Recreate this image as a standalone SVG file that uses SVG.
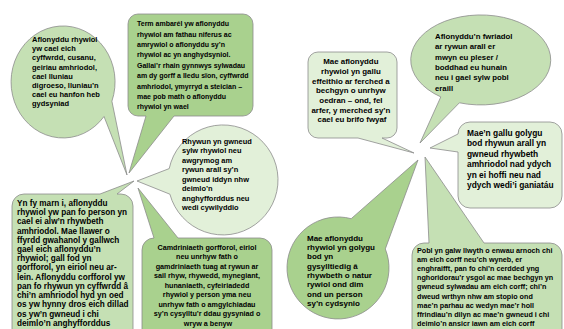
<svg xmlns="http://www.w3.org/2000/svg" width="564" height="329" viewBox="0 0 564 329">
<style>
.s{stroke:#8c8c8c;stroke-width:0.8;stroke-linejoin:round}
.dk{fill:#a9d18e}
.md{fill:#c5e0b4}
.lt{fill:#e2f0d9}
text{font-family:"Liberation Sans",Arial,sans-serif;font-weight:bold;fill:#000}
</style>
<rect width="564" height="329" fill="#ffffff"/>
<g id="connectors"></g>

<g id="n1">
<path class="s md" d="M 111.9,101.2 A 52 56 0 1 0 104,116.5 L 127,175 Z"/>
<text font-size="7.5">
<tspan x="32" y="42.3">Aflonyddu rhywiol</tspan>
<tspan x="32" y="51.4">yw cael eich</tspan>
<tspan x="32" y="60.4">cyffwrdd, cusanu,</tspan>
<tspan x="32" y="69.5">geiriau amhriodol,</tspan>
<tspan x="32" y="78.5">cael lluniau</tspan>
<tspan x="32" y="87.6">digroeso, lluniau’n</tspan>
<tspan x="32" y="96.6">cael eu hanfon heb</tspan>
<tspan x="32" y="105.7">gydsyniad</tspan>
</text>
</g>

<g id="n2">
<path class="s dk" d="M 138,14 H 243 A 10 10 0 0 1 253,24 V 106 A 10 10 0 0 1 243,116 H 174 L 129,173 L 146,116 H 138 A 10 10 0 0 1 128,106 V 24 A 10 10 0 0 1 138,14 Z"/>
<text font-size="7">
<tspan x="137" y="26.1">Term ambarél yw aflonyddu</tspan>
<tspan x="137" y="36.5">rhywiol am fathau niferus ac</tspan>
<tspan x="137" y="46.9">amrywiol o aflonyddu sy’n</tspan>
<tspan x="137" y="57.3">rhywiol ac yn anghydsyniol.</tspan>
<tspan x="137" y="67.7">Gallai’r rhain gynnwys sylwadau</tspan>
<tspan x="137" y="78.1">am dy gorff a lledu sïon, cyffwrdd</tspan>
<tspan x="137" y="88.5">amhriodol, ymyrryd a steician –</tspan>
<tspan x="137" y="98.9">mae pob math o aflonyddu</tspan>
<tspan x="137" y="109.3">rhywiol yn wael</tspan>
</text>
</g>

<g id="n3">
<path class="s lt" d="M 169.2,168.6 A 55 55 0 1 1 169.9,194.2 L 137,181 Z"/>
<text font-size="7.45">
<tspan x="182" y="143.9">Rhywun yn gwneud</tspan>
<tspan x="182" y="153.4">sylw rhywiol neu</tspan>
<tspan x="182" y="162.9">awgrymog am</tspan>
<tspan x="182" y="172.4">rywun arall sy’n</tspan>
<tspan x="182" y="181.9">gwneud iddyn nhw</tspan>
<tspan x="182" y="191.4">deimlo’n</tspan>
<tspan x="182" y="200.9">anghyfforddus neu</tspan>
<tspan x="182" y="210.4">wedi cywilyddio</tspan>
</text>
</g>

<g id="n4">
<path class="s md" d="M 24,194 H 100 L 134,181 L 117,194 H 121 A 12 12 0 0 1 133,206 V 345 H 12 V 206 A 12 12 0 0 1 24,194 Z"/>
<text font-size="8.2">
<tspan x="17" y="205.8">Yn fy marn i, aflonyddu</tspan>
<tspan x="17" y="215">rhywiol yw pan fo person yn</tspan>
<tspan x="17" y="224.3">cael ei alw’n rhywbeth</tspan>
<tspan x="17" y="233.5">amhriodol. Mae llawer o</tspan>
<tspan x="17" y="242.7">ffyrdd gwahanol y gallwch</tspan>
<tspan x="17" y="251.9">gael eich aflonyddu’n</tspan>
<tspan x="17" y="261.2">rhywiol; gall fod yn</tspan>
<tspan x="17" y="270.4">gorfforol, yn eiriol neu ar-</tspan>
<tspan x="17" y="279.6">lein. Aflonyddu corfforol yw</tspan>
<tspan x="17" y="288.9">pan fo rhywun yn cyffwrdd â</tspan>
<tspan x="17" y="298.1">chi’n amhriodol hyd yn oed</tspan>
<tspan x="17" y="307.3">os yw hynny dros eich dillad</tspan>
<tspan x="17" y="316.6">os yw’n gwneud i chi</tspan>
<tspan x="17" y="325.8">deimlo’n anghyfforddus</tspan>
</text>
</g>

<g id="n5">
<path class="s dk" d="M 154,238 L 138,188 L 178,238 H 260 A 12 12 0 0 1 272,250 V 345 H 142 V 250 A 12 12 0 0 1 154,238 Z"/>
<text font-size="7.2" text-anchor="middle">
<tspan x="208" y="249.5">Camdriniaeth gorfforol, eiriol</tspan>
<tspan x="208" y="259">neu unrhyw fath o</tspan>
<tspan x="208" y="268.5">gamdriniaeth tuag at rywun ar</tspan>
<tspan x="208" y="278">sail rhyw, rhywedd, mynegiant,</tspan>
<tspan x="208" y="287.5">hunaniaeth, cyfeiriadedd</tspan>
<tspan x="208" y="297">rhywiol y person yma neu</tspan>
<tspan x="208" y="306.5">unrhyw fath o amgylchiadau</tspan>
<tspan x="208" y="316">sy’n cysylltu’r ddau gysyniad o</tspan>
<tspan x="208" y="325.5">wryw a benyw</tspan>
</text>
</g>

<g id="n6">
<path class="s lt" d="M 318,52 H 387 A 10 10 0 0 1 397,62 V 128 A 10 10 0 0 1 387,138 H 382 L 414,153 L 358,138 H 318 A 10 10 0 0 1 308,128 V 62 A 10 10 0 0 1 318,52 Z"/>
<text font-size="7.9" text-anchor="middle">
<tspan x="352" y="64.1">Mae aflonyddu</tspan>
<tspan x="352" y="73.8">rhywiol yn gallu</tspan>
<tspan x="352" y="83.5">effeithio ar ferched a</tspan>
<tspan x="352" y="93.3">bechgyn o unrhyw</tspan>
<tspan x="352" y="103">oedran – ond, fel</tspan>
<tspan x="352" y="112.7">arfer, y merched sy’n</tspan>
<tspan x="352" y="122.4">cael eu brifo fwyaf</tspan>
</text>
</g>

<g id="n7">
<path class="s md" d="M 459.4,102.8 A 70 45 0 1 0 440.8,96.9 L 420,143 Z"/>
<text font-size="7.8">
<tspan x="435" y="39">Aflonyddu’n fwriadol</tspan>
<tspan x="435" y="49.3">ar rywun arall er</tspan>
<tspan x="435" y="59.6">mwyn eu pleser /</tspan>
<tspan x="435" y="69.9">boddhad eu hunain</tspan>
<tspan x="435" y="80.2">neu i gael sylw pobl</tspan>
<tspan x="435" y="90.5">eraill</tspan>
</text>
</g>

<g id="n8">
<path class="s lt" d="M 470,122 H 550 A 12 12 0 0 1 562,134 V 196 A 12 12 0 0 1 550,208 H 470 A 12 12 0 0 1 458,196 V 152 L 430,148 L 458,134 A 12 12 0 0 1 470,122 Z"/>
<text font-size="8.4">
<tspan x="467" y="135.8">Mae’n gallu golygu</tspan>
<tspan x="467" y="146.3">bod rhywun arall yn</tspan>
<tspan x="467" y="156.8">gwneud rhywbeth</tspan>
<tspan x="467" y="167.3">amhriodol nad ydych</tspan>
<tspan x="467" y="177.8">yn ei hoffi neu nad</tspan>
<tspan x="467" y="188.3">ydych wedi’i ganiatáu</tspan>
</text>
</g>

<g id="n9">
<path class="s dk" d="M 385.3,248.9 A 51 51 0 1 1 351.2,218.7 L 418,160 Z"/>
<text font-size="8">
<tspan x="307" y="240.8">Mae aflonyddu</tspan>
<tspan x="307" y="250.1">rhywiol yn golygu</tspan>
<tspan x="307" y="259.4">bod yn</tspan>
<tspan x="307" y="268.7">gysylltiedig â</tspan>
<tspan x="307" y="278">rhywbeth o natur</tspan>
<tspan x="307" y="287.3">rywiol ond dim</tspan>
<tspan x="307" y="296.6">ond un person</tspan>
<tspan x="307" y="305.9">sy’n cydsynio</tspan>
</text>
</g>

<g id="n10">
<path class="s md" d="M 424,243 H 429 L 425,157 L 484,243 H 550 A 12 12 0 0 1 562,255 V 345 H 412 V 255 A 12 12 0 0 1 424,243 Z"/>
<text font-size="7.2">
<tspan x="417" y="253">Pobl yn galw llwyth o enwau arnoch chi</tspan>
<tspan x="417" y="262.1">am eich corff neu’ch wyneb, er</tspan>
<tspan x="417" y="271.2">enghraifft, pan fo chi’n cerdded yng</tspan>
<tspan x="417" y="280.3">nghoridorau’r ysgol ac mae bechgyn yn</tspan>
<tspan x="417" y="289.4">gwneud sylwadau am eich corff; chi’n</tspan>
<tspan x="417" y="298.5">dweud wrthyn nhw am stopio ond</tspan>
<tspan x="417" y="307.6">mae’n parhau ac wedyn mae’r holl</tspan>
<tspan x="417" y="316.7">ffrindiau’n dilyn ac mae’n gwneud i chi</tspan>
<tspan x="417" y="325.8">deimlo’n ansicr iawn am eich corff</tspan>
</text>
</g>
</svg>
